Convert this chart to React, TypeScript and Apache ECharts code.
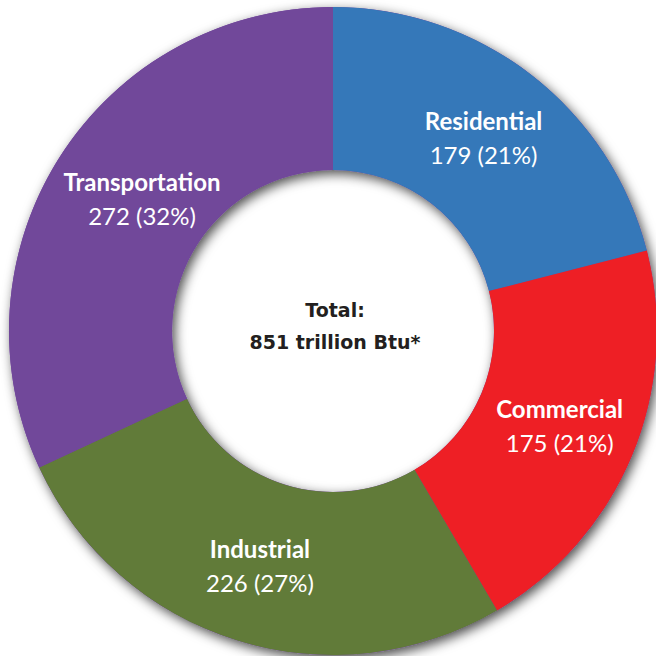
import React, { useEffect, useRef } from "react";
import * as echarts from "echarts";

const categories = ["Residential", "Commercial", "Industrial", "Transportation"];
const values = [179, 175, 226, 272];
const percents = [21, 21, 27, 32];
const colors = ["#3578B9", "#EE1F25", "#617B39", "#71489A"];
const centerLines = ["Total:", "851 trillion Btu*"];

export default function App() {
  const ref = useRef<HTMLDivElement>(null);
  useEffect(() => {
    if (!ref.current) return;
    const chart = echarts.init(ref.current, null, { renderer: "svg" });
    const center = [333, 331];
    const radius = [161, 324];
    const labelOffsets: Record<string, number[]> = { Transportation: [16, 0] };
    chart.setOption({
      animation: false,
      backgroundColor: "#ffffff",
      series: [
        {
          type: "pie",
          silent: true,
          center,
          radius,
          label: { show: false },
          labelLine: { show: false },
          itemStyle: {
            color: "#71489A",
            shadowBlur: 12,
            shadowColor: "rgba(0,0,0,0.7)",
            shadowOffsetX: 3,
            shadowOffsetY: 4,
          },
          data: [{ value: 1, name: "bg" }],
        },
        {
          type: "pie",
          center,
          radius,
          startAngle: 90,
          clockwise: true,
          labelLine: { show: false },
          itemStyle: { borderWidth: 0 },
          label: {
            show: true,
            position: "inside",
            formatter: (p: any) =>
              `{n|${p.name}}\n{v|${p.value} (${percents[p.dataIndex]}%)}`,
            rich: {
              n: {
                fontFamily: "Lato",
                fontWeight: "bold",
                fontSize: 24,
                color: "#ffffff",
                lineHeight: 34,
                align: "center",
              },
              v: {
                fontFamily: "Lato",
                fontSize: 24,
                color: "#ffffff",
                lineHeight: 34,
                align: "center",
              },
            },
          },
          data: categories.map((c, i) => ({
            name: c,
            value: values[i],
            itemStyle: { color: colors[i] },
            label: labelOffsets[c] ? { offset: labelOffsets[c] } : undefined,
          })),
        },
      ],
      graphic: [
        {
          type: "text",
          x: 335,
          y: 310,
          style: {
            text: centerLines[0],
            fontFamily: "DejaVu Sans",
            fontWeight: "bold",
            fontSize: 19,
            fill: "#231F20",
            textAlign: "center",
            textVerticalAlign: "middle",
          },
        },
        {
          type: "text",
          x: 335,
          y: 342,
          style: {
            text: centerLines[1],
            fontFamily: "DejaVu Sans",
            fontWeight: "bold",
            fontSize: 19,
            fill: "#231F20",
            textAlign: "center",
            textVerticalAlign: "middle",
          },
        },
      ],
    });
    return () => chart.dispose();
  }, []);
  return (
    <div
      ref={ref}
      style={{ position: "absolute", left: 0, top: 0, width: 656, height: 656 }}
    />
  );
}
